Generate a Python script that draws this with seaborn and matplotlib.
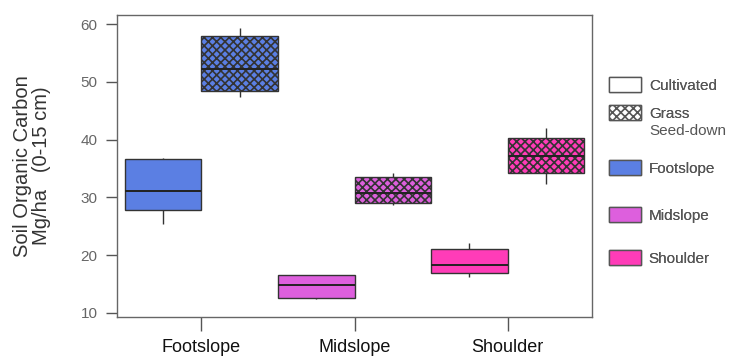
import numpy as np
import pandas as pd
import matplotlib
matplotlib.use("Agg")
import matplotlib.pyplot as plt
import matplotlib.patches as mpatches
import seaborn as sns

# ---- data (five-number summaries) ----
positions = ["Footslope", "Midslope", "Shoulder"]
treatments = ["Cultivated", "Grass Seed-down"]
# order: Footslope-Cult, Footslope-Grass, Mid-Cult, Mid-Grass, Shoulder-Cult, Shoulder-Grass
whisker_low = [25.4, 47.4, 12.5, 28.7, 16.2, 32.3]
q1 = [27.9, 48.5, 12.6, 29.1, 16.9, 34.2]
median = [31.2, 52.3, 14.8, 30.8, 18.3, 37.2]
q3 = [36.7, 58.0, 16.5, 33.6, 21.0, 40.3]
whisker_high = [36.9, 59.4, 16.6, 34.2, 22.2, 42.1]
colors = {"Footslope": "#5b7fe3", "Midslope": "#dd5fdd", "Shoulder": "#ff3cb8"}
legend_labels = ["Cultivated", "Grass", "Footslope", "Midslope", "Shoulder"]

rows = []
k = 0
for p in positions:
    for t in treatments:
        for v in (whisker_low[k], q1[k], median[k], q3[k], whisker_high[k]):
            rows.append({"Position": p, "Treatment": t, "SOC": v})
        k += 1
df = pd.DataFrame(rows)

sns.set_style("white")
plt.rcParams["font.family"] = ["Liberation Sans", "DejaVu Sans"]
plt.rcParams["hatch.linewidth"] = 1.2

fig = plt.figure(figsize=(7.34, 3.56), dpi=100)
ax = fig.add_axes([117 / 734, 1 - 317 / 356, (592 - 117) / 734, (317 - 15) / 356])

sns.boxplot(data=df, x="Position", y="SOC", hue="Treatment", order=positions,
            hue_order=treatments, width=1.0, gap=0, whis=np.inf, dodge=True,
            linecolor="#333333", linewidth=1.0, ax=ax, legend=False,
            medianprops={"color": "#222222", "linewidth": 1.4},
            whiskerprops={"color": "#333333", "linewidth": 1.0},
            capprops={"linewidth": 0})

# colour and hatch boxes (patches drawn hue level by hue level)
for i, patch in enumerate(ax.patches):
    hue_i = i // len(positions)
    pos_i = i % len(positions)
    patch.set_facecolor(colors[positions[pos_i]])
    patch.set_edgecolor("#333333")
    if hue_i == 1:
        patch.set_hatch("xxxx")

ax.set_xlim(-0.55, 2.55)
ax.set_ylim(9.3, 61.6)
ax.set_yticks([10, 20, 30, 40, 50, 60])
ax.tick_params(axis="y", direction="out", length=8, width=1, color="#555555",
               labelsize=11, labelcolor="#666666", left=True, pad=6)
ax.tick_params(axis="x", direction="out", length=10, width=1, color="#555555",
               labelsize=13, labelcolor="#111111", bottom=True, pad=6)
for s in ax.spines.values():
    s.set_color("#666666")
    s.set_linewidth(1.0)
ax.set_xlabel("")
ax.set_ylabel("Soil Organic Carbon\nMg/ha   (0-15 cm)", fontsize=14.5, color="#333333",
              labelpad=21, linespacing=1.05)

# legend: one entry per legend so the uneven spacing can be matched
handles = [
    mpatches.Patch(facecolor="white", edgecolor="#555555"),
    mpatches.Patch(facecolor="white", edgecolor="#555555", hatch="xxxx"),
    mpatches.Patch(facecolor=colors["Footslope"], edgecolor="#555555"),
    mpatches.Patch(facecolor=colors["Midslope"], edgecolor="#555555"),
    mpatches.Patch(facecolor=colors["Shoulder"], edgecolor="#555555"),
]
entry_y = [85, 113, 168, 215, 258]  # pixel centres of entries
for h, lab, yp in zip(handles, legend_labels, entry_y):
    lg = fig.legend(handles=[h], labels=[lab], loc="center left",
                    bbox_to_anchor=(603 / 734, 1 - yp / 356), frameon=False,
                    fontsize=11, labelcolor="#555555", handlelength=2.1,
                    handleheight=1.1, handletextpad=0.5, borderaxespad=0)
    fig.add_artist(lg)
fig.text(649 / 734, 1 - 131 / 356, "Seed-down", fontsize=11, color="#555555",
         va="center", ha="left")

fig.savefig("out.png", dpi=100)
